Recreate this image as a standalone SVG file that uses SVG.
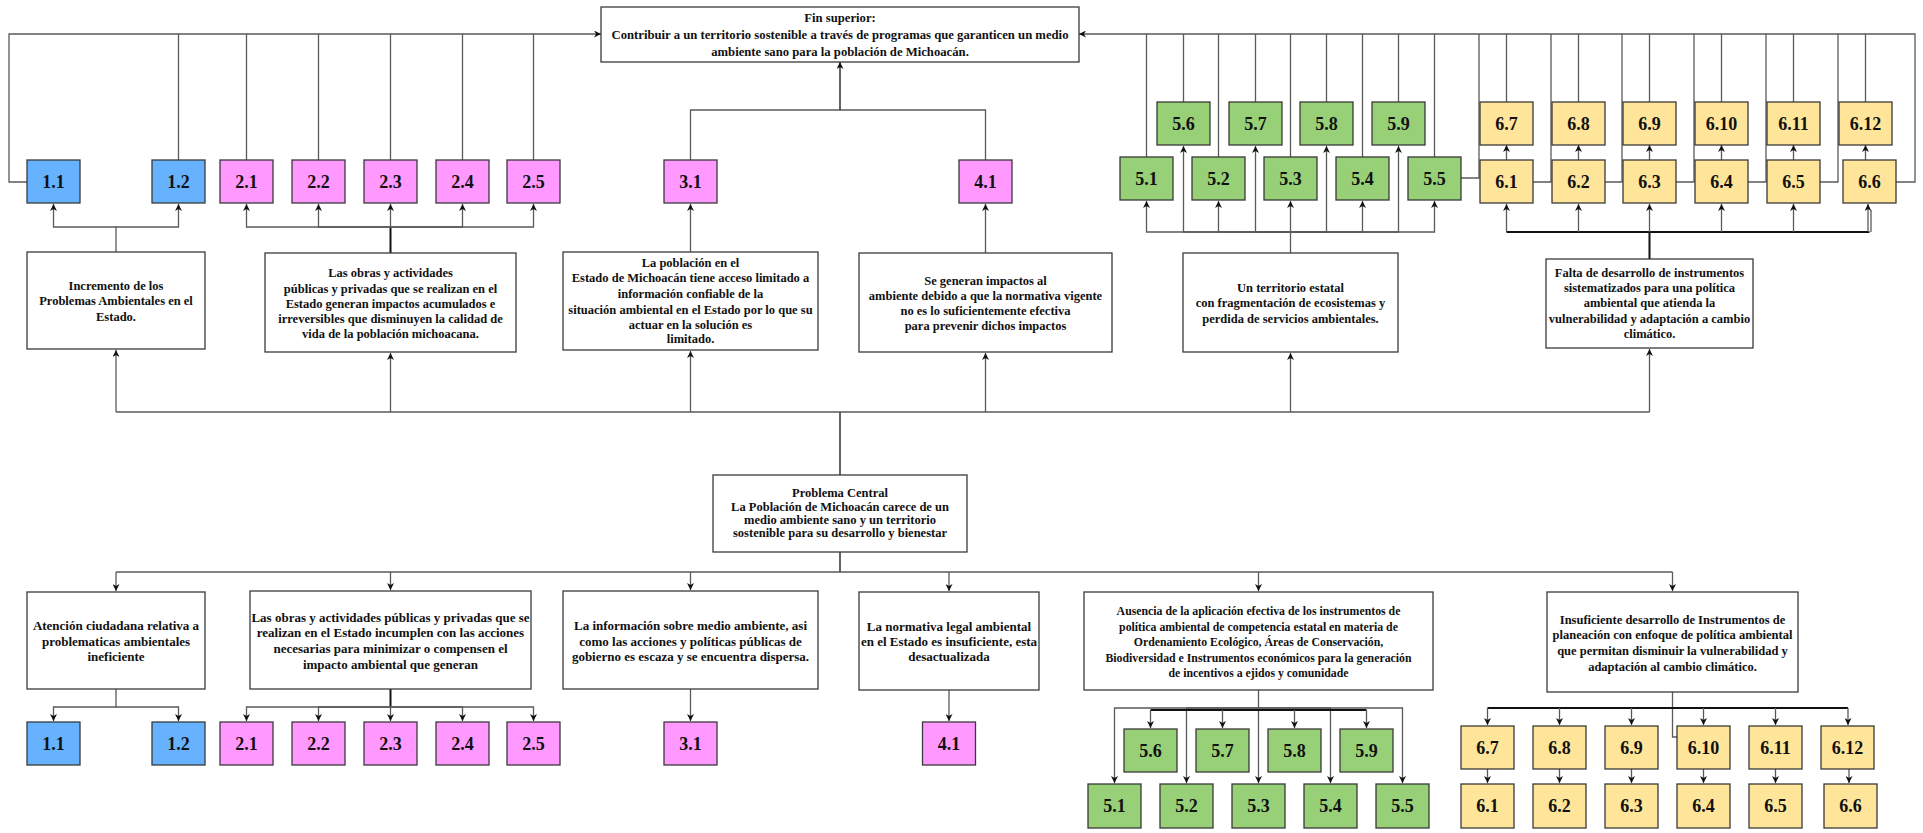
<svg xmlns="http://www.w3.org/2000/svg" width="1923" height="833" viewBox="0 0 1923 833">
<style>
.bg{fill:#fff}
.box{fill:#fff;stroke:#3a3a3a;stroke-width:1.3}
.nb{stroke:#3a3a3a;stroke-width:1.3}
.b1{fill:#66B2FF}
.b2{fill:#FF99FF}
.b5{fill:#97D077}
.b6{fill:#FFE599}
.t{font-family:"Liberation Serif","Times New Roman",serif;font-weight:bold;font-size:12.5px;text-anchor:middle;fill:#111}
.tf{font-size:12.7px}
.tb{font-size:13px}
.ta{font-size:11.8px}
.n{font-family:"Liberation Serif","Times New Roman",serif;font-weight:bold;font-size:18px;text-anchor:middle;fill:#111}
.c{fill:none;stroke:#5a5a5a;stroke-width:1.3}
.d{fill:none;stroke:#111;stroke-width:1.3}
.k{fill:none;stroke:#111;stroke-width:2}
</style>
<defs>
<marker id="a" viewBox="0 0 10 10" refX="10" refY="5" markerWidth="7" markerHeight="7" markerUnits="userSpaceOnUse" orient="auto">
<path d="M0,0 L10,5 L0,10 L3,5 z" fill="#111"/>
</marker>
</defs>
<rect class="bg" x="0" y="0" width="1923" height="833"/>

<g id="connectors">
<path class="c" d="M27,182 H9 V34 H601" marker-end="url(#a)"/>
<path class="c" d="M178.5,160 V34 M246.5,160 V34 M318.5,160 V34 M390.5,160 V34 M462.5,160 V34 M533.5,160 V34"/>
<path class="c" d="M1896,182 H1915 V34 H1079" marker-end="url(#a)"/>
<path class="c" d="M1146.5,157 V34 M1183.5,102 V34 M1218.5,157 V34 M1255.5,102 V34 M1290.5,157 V34 M1326.5,102 V34 M1362.5,157 V34 M1398.5,102 V34 M1434.5,157 V34"/>
<path class="c" d="M1461,178 H1479 V34 M1533,182 H1551 V34 M1605,182 H1622 V34 M1676,182 H1694 V34 M1748,182 H1766 V34 M1820,182 H1838 V34"/>
<path class="c" d="M1506.5,102 V34 M1578.5,102 V34 M1649.5,102 V34 M1721.5,102 V34 M1793.5,102 V34 M1865.5,102 V34"/>
<path class="c" d="M1506.5,160 V145" marker-end="url(#a)"/>
<path class="c" d="M1578.5,160 V145" marker-end="url(#a)"/>
<path class="c" d="M1649.5,160 V145" marker-end="url(#a)"/>
<path class="c" d="M1721.5,160 V145" marker-end="url(#a)"/>
<path class="c" d="M1793.5,160 V145" marker-end="url(#a)"/>
<path class="c" d="M1865.5,160 V145" marker-end="url(#a)"/>
<path class="c" d="M690.5,160 V110 H985.5 V160"/>
<path class="d" d="M840,110 V62" marker-end="url(#a)"/>

<path class="c" d="M116,252 V227 H53.5 V204" marker-end="url(#a)"/>
<path class="c" d="M116,227 H178.5 V204" marker-end="url(#a)"/>
<path class="k" d="M390.5,253 V227"/>
<path class="c" d="M390.5,227 H246.5 V204" marker-end="url(#a)"/>
<path class="c" d="M390.5,227 H318.5 V204" marker-end="url(#a)"/>
<path class="c" d="M390.5,227 V204" marker-end="url(#a)"/>
<path class="c" d="M390.5,227 H462.5 V204" marker-end="url(#a)"/>
<path class="c" d="M390.5,227 H533.5 V204" marker-end="url(#a)"/>
<path class="c" d="M690.5,252 V204" marker-end="url(#a)"/>
<path class="c" d="M985.5,253 V204" marker-end="url(#a)"/>
<path class="c" d="M1290.5,253 V232 H1146.5 V201" marker-end="url(#a)"/>
<path class="c" d="M1290.5,232 H1183.5 V146" marker-end="url(#a)"/>
<path class="c" d="M1290.5,232 H1218.5 V201" marker-end="url(#a)"/>
<path class="c" d="M1290.5,232 H1255.5 V146" marker-end="url(#a)"/>
<path class="c" d="M1290.5,232 V201" marker-end="url(#a)"/>
<path class="c" d="M1290.5,232 H1326.5 V146" marker-end="url(#a)"/>
<path class="c" d="M1290.5,232 H1362.5 V201" marker-end="url(#a)"/>
<path class="c" d="M1290.5,232 H1398.5 V146" marker-end="url(#a)"/>
<path class="c" d="M1290.5,232 H1434.5 V201" marker-end="url(#a)"/>
<path class="k" d="M1649.5,259 V232 M1506.5,232 H1869.5"/>
<path class="c" d="M1506.5,232 V204" marker-end="url(#a)"/>
<path class="c" d="M1578.5,232 V204" marker-end="url(#a)"/>
<path class="c" d="M1649.5,232 V204" marker-end="url(#a)"/>
<path class="c" d="M1721.5,232 V204" marker-end="url(#a)"/>
<path class="c" d="M1793.5,232 V204" marker-end="url(#a)"/>
<path class="c" d="M1868,232 V204" marker-end="url(#a)"/>
<path class="c" d="M1871,232 V210"/>

<path class="d" d="M840,475 V412"/>
<path class="c" d="M116,412 H1649.5"/>
<path class="c" d="M116,412 V350" marker-end="url(#a)"/>
<path class="c" d="M390.5,412 V353" marker-end="url(#a)"/>
<path class="c" d="M690.5,412 V351" marker-end="url(#a)"/>
<path class="c" d="M985.5,412 V353" marker-end="url(#a)"/>
<path class="c" d="M1290.5,412 V353" marker-end="url(#a)"/>
<path class="c" d="M1649.5,412 V349" marker-end="url(#a)"/>

<path class="d" d="M840,552 V572"/>
<path class="c" d="M116,572 H1672.5"/>
<path class="c" d="M116,572 V591" marker-end="url(#a)"/>
<path class="c" d="M390.5,572 V590" marker-end="url(#a)"/>
<path class="c" d="M690.5,572 V590" marker-end="url(#a)"/>
<path class="c" d="M949,572 V591" marker-end="url(#a)"/>
<path class="c" d="M1258.5,572 V591" marker-end="url(#a)"/>
<path class="c" d="M1672.5,572 V591" marker-end="url(#a)"/>

<path class="c" d="M116,689 V707 H53.5 V721" marker-end="url(#a)"/>
<path class="c" d="M116,707 H178.5 V721" marker-end="url(#a)"/>
<path class="k" d="M390.5,689 V707"/>
<path class="c" d="M390.5,707 H246.5 V721" marker-end="url(#a)"/>
<path class="c" d="M390.5,707 H318.5 V721" marker-end="url(#a)"/>
<path class="c" d="M390.5,707 V721" marker-end="url(#a)"/>
<path class="c" d="M390.5,707 H462.5 V721" marker-end="url(#a)"/>
<path class="c" d="M390.5,707 H533.5 V721" marker-end="url(#a)"/>
<path class="c" d="M690.5,689 V721" marker-end="url(#a)"/>
<path class="c" d="M949,690 V721" marker-end="url(#a)"/>

<path class="c" d="M1258.5,690 V708 H1114.5 V783" marker-end="url(#a)"/>
<path class="c" d="M1258.5,708 H1186.5 V783" marker-end="url(#a)"/>
<path class="c" d="M1258.5,708 V783" marker-end="url(#a)"/>
<path class="c" d="M1258.5,708 H1330.5 V783" marker-end="url(#a)"/>
<path class="c" d="M1258.5,708 H1402.5 V783" marker-end="url(#a)"/>
<path class="k" d="M1150.5,710 H1366.5"/>
<path class="c" d="M1150.5,710 V728" marker-end="url(#a)"/>
<path class="c" d="M1222.5,710 V728" marker-end="url(#a)"/>
<path class="c" d="M1294.5,710 V728" marker-end="url(#a)"/>
<path class="c" d="M1366.5,710 V728" marker-end="url(#a)"/>

<path class="c" d="M1672.5,692 V737 H1677"/>
<path class="k" d="M1487.5,708 H1848"/>
<path class="c" d="M1487.5,708 V725" marker-end="url(#a)"/>
<path class="c" d="M1559.5,708 V725" marker-end="url(#a)"/>
<path class="c" d="M1631.5,708 V725" marker-end="url(#a)"/>
<path class="c" d="M1703.5,708 V725" marker-end="url(#a)"/>
<path class="c" d="M1775.5,708 V725" marker-end="url(#a)"/>
<path class="c" d="M1848,708 V725" marker-end="url(#a)"/>
<path class="c" d="M1487.5,769 V783" marker-end="url(#a)"/>
<path class="c" d="M1559.5,769 V783" marker-end="url(#a)"/>
<path class="c" d="M1631.5,769 V783" marker-end="url(#a)"/>
<path class="c" d="M1703.5,769 V783" marker-end="url(#a)"/>
<path class="c" d="M1775.5,769 V783" marker-end="url(#a)"/>
<path class="c" d="M1849,769 V783" marker-end="url(#a)"/>
</g>

<g id="fin"><rect class="box" x="601" y="7" width="478" height="55"/>
<text class="t tf"><tspan x="840" y="22">Fin superior:</tspan><tspan x="840" y="39">Contribuir a un territorio sostenible a través de programas que garanticen un medio</tspan><tspan x="840" y="56">ambiente sano para la población de Michoacán.</tspan></text></g>

<g id="t11"><rect class="nb b1" x="27" y="160" width="53" height="43"/><text class="n" x="53.5" y="188">1.1</text></g>
<g id="t12"><rect class="nb b1" x="152" y="160" width="53" height="43"/><text class="n" x="178.5" y="188">1.2</text></g>
<g id="t21"><rect class="nb b2" x="220" y="160" width="53" height="43"/><text class="n" x="246.5" y="188">2.1</text></g>
<g id="t22"><rect class="nb b2" x="292" y="160" width="53" height="43"/><text class="n" x="318.5" y="188">2.2</text></g>
<g id="t23"><rect class="nb b2" x="364" y="160" width="53" height="43"/><text class="n" x="390.5" y="188">2.3</text></g>
<g id="t24"><rect class="nb b2" x="436" y="160" width="53" height="43"/><text class="n" x="462.5" y="188">2.4</text></g>
<g id="t25"><rect class="nb b2" x="507" y="160" width="53" height="43"/><text class="n" x="533.5" y="188">2.5</text></g>
<g id="t31"><rect class="nb b2" x="664" y="160" width="53" height="43"/><text class="n" x="690.5" y="188">3.1</text></g>
<g id="t41"><rect class="nb b2" x="959" y="160" width="53" height="43"/><text class="n" x="985.5" y="188">4.1</text></g>

<g id="t51"><rect class="nb b5" x="1120" y="157" width="53" height="43"/><text class="n" x="1146.5" y="185">5.1</text></g>
<g id="t52"><rect class="nb b5" x="1192" y="157" width="53" height="43"/><text class="n" x="1218.5" y="185">5.2</text></g>
<g id="t53"><rect class="nb b5" x="1264" y="157" width="53" height="43"/><text class="n" x="1290.5" y="185">5.3</text></g>
<g id="t54"><rect class="nb b5" x="1336" y="157" width="53" height="43"/><text class="n" x="1362.5" y="185">5.4</text></g>
<g id="t55"><rect class="nb b5" x="1408" y="157" width="53" height="43"/><text class="n" x="1434.5" y="185">5.5</text></g>
<g id="t56"><rect class="nb b5" x="1157" y="102" width="53" height="43"/><text class="n" x="1183.5" y="130">5.6</text></g>
<g id="t57"><rect class="nb b5" x="1229" y="102" width="53" height="43"/><text class="n" x="1255.5" y="130">5.7</text></g>
<g id="t58"><rect class="nb b5" x="1300" y="102" width="53" height="43"/><text class="n" x="1326.5" y="130">5.8</text></g>
<g id="t59"><rect class="nb b5" x="1372" y="102" width="53" height="43"/><text class="n" x="1398.5" y="130">5.9</text></g>

<g id="t67"><rect class="nb b6" x="1480" y="102" width="53" height="43"/><text class="n" x="1506.5" y="130">6.7</text></g>
<g id="t68"><rect class="nb b6" x="1552" y="102" width="53" height="43"/><text class="n" x="1578.5" y="130">6.8</text></g>
<g id="t69"><rect class="nb b6" x="1623" y="102" width="53" height="43"/><text class="n" x="1649.5" y="130">6.9</text></g>
<g id="t610"><rect class="nb b6" x="1695" y="102" width="53" height="43"/><text class="n" x="1721.5" y="130">6.10</text></g>
<g id="t611"><rect class="nb b6" x="1767" y="102" width="53" height="43"/><text class="n" x="1793.5" y="130">6.11</text></g>
<g id="t612"><rect class="nb b6" x="1839" y="102" width="53" height="43"/><text class="n" x="1865.5" y="130">6.12</text></g>
<g id="t61"><rect class="nb b6" x="1480" y="160" width="53" height="43"/><text class="n" x="1506.5" y="188">6.1</text></g>
<g id="t62"><rect class="nb b6" x="1552" y="160" width="53" height="43"/><text class="n" x="1578.5" y="188">6.2</text></g>
<g id="t63"><rect class="nb b6" x="1623" y="160" width="53" height="43"/><text class="n" x="1649.5" y="188">6.3</text></g>
<g id="t64"><rect class="nb b6" x="1695" y="160" width="53" height="43"/><text class="n" x="1721.5" y="188">6.4</text></g>
<g id="t65"><rect class="nb b6" x="1767" y="160" width="53" height="43"/><text class="n" x="1793.5" y="188">6.5</text></g>
<g id="t66"><rect class="nb b6" x="1843" y="160" width="53" height="43"/><text class="n" x="1869.5" y="188">6.6</text></g>

<g id="e1"><rect class="box" x="27" y="252" width="178" height="97"/>
<text class="t"><tspan x="116" y="290">Incremento de los</tspan><tspan x="116" y="305">Problemas Ambientales en el</tspan><tspan x="116" y="321">Estado.</tspan></text></g>
<g id="e2"><rect class="box" x="265" y="253" width="251" height="99"/>
<text class="t"><tspan x="390.5" y="277">Las obras y actividades</tspan><tspan x="390.5" y="293">públicas y privadas que se realizan en el</tspan><tspan x="390.5" y="308">Estado generan impactos acumulados e</tspan><tspan x="390.5" y="323">irreversibles que disminuyen la calidad de</tspan><tspan x="390.5" y="338">vida de la población michoacana.</tspan></text></g>
<g id="e3"><rect class="box" x="563" y="252" width="255" height="98"/>
<text class="t"><tspan x="690.5" y="267">La población en el</tspan><tspan x="690.5" y="282">Estado de Michoacán tiene acceso limitado a</tspan><tspan x="690.5" y="298">información confiable de la</tspan><tspan x="690.5" y="314">situación ambiental en el Estado por lo que su</tspan><tspan x="690.5" y="329">actuar en la solución es</tspan><tspan x="690.5" y="343">limitado.</tspan></text></g>
<g id="e4"><rect class="box" x="859" y="253" width="253" height="99"/>
<text class="t"><tspan x="985.5" y="285">Se generan impactos al</tspan><tspan x="985.5" y="300">ambiente debido a que la normativa vigente</tspan><tspan x="985.5" y="315">no es lo suficientemente efectiva</tspan><tspan x="985.5" y="330">para prevenir dichos impactos</tspan></text></g>
<g id="e5"><rect class="box" x="1183" y="253" width="215" height="99"/>
<text class="t"><tspan x="1290.5" y="292">Un territorio estatal</tspan><tspan x="1290.5" y="307">con fragmentación de ecosistemas y</tspan><tspan x="1290.5" y="323">perdida de servicios ambientales.</tspan></text></g>
<g id="e6"><rect class="box" x="1546" y="259" width="207" height="89"/>
<text class="t"><tspan x="1649.5" y="277">Falta de desarrollo de instrumentos</tspan><tspan x="1649.5" y="292">sistematizados para una política</tspan><tspan x="1649.5" y="307">ambiental que atienda la</tspan><tspan x="1649.5" y="323">vulnerabilidad y adaptación a cambio</tspan><tspan x="1649.5" y="338">climático.</tspan></text></g>

<g id="central"><rect class="box" x="713" y="475" width="254" height="77"/>
<text class="t"><tspan x="840" y="497">Problema Central</tspan><tspan x="840" y="511">La Población de Michoacán carece de un</tspan><tspan x="840" y="524">medio ambiente sano y un territorio</tspan><tspan x="840" y="537">sostenible para su desarrollo y bienestar</tspan></text></g>

<g id="c1"><rect class="box" x="27" y="592" width="178" height="97"/>
<text class="t tb"><tspan x="116" y="630">Atención ciudadana relativa a</tspan><tspan x="116" y="646">problematicas ambientales</tspan><tspan x="116" y="661">ineficiente</tspan></text></g>
<g id="c2"><rect class="box" x="250" y="591" width="281" height="98"/>
<text class="t tb"><tspan x="390.5" y="622">Las obras y actividades públicas y privadas que se</tspan><tspan x="390.5" y="637">realizan en el Estado incumplen con las acciones</tspan><tspan x="390.5" y="653">necesarias para minimizar o compensen el</tspan><tspan x="390.5" y="669">impacto ambiental que generan</tspan></text></g>
<g id="c3"><rect class="box" x="563" y="591" width="255" height="98"/>
<text class="t tb"><tspan x="690.5" y="630">La información sobre medio ambiente, asi</tspan><tspan x="690.5" y="646">como las acciones y políticas públicas de</tspan><tspan x="690.5" y="661">gobierno es escaza y se encuentra dispersa.</tspan></text></g>
<g id="c4"><rect class="box" x="859" y="592" width="180" height="98"/>
<text class="t tb"><tspan x="949" y="631">La normativa legal ambiental</tspan><tspan x="949" y="646">en el Estado es insuficiente, esta</tspan><tspan x="949" y="661">desactualizada</tspan></text></g>
<g id="c5"><rect class="box" x="1084" y="592" width="349" height="98"/>
<text class="t ta"><tspan x="1258.5" y="615">Ausencia de la aplicación efectiva de los instrumentos de</tspan><tspan x="1258.5" y="631">política ambiental de competencia estatal en materia de</tspan><tspan x="1258.5" y="646">Ordenamiento Ecológico, Áreas de Conservación,</tspan><tspan x="1258.5" y="662">Biodiversidad e Instrumentos económicos para la generación</tspan><tspan x="1258.5" y="677">de incentivos a ejidos y comunidade</tspan></text></g>
<g id="c6"><rect class="box" x="1547" y="592" width="251" height="100"/>
<text class="t"><tspan x="1672.5" y="624">Insuficiente desarrollo de Instrumentos de</tspan><tspan x="1672.5" y="639">planeación con enfoque de política ambiental</tspan><tspan x="1672.5" y="655">que permitan disminuir la vulnerabilidad y</tspan><tspan x="1672.5" y="671">adaptación al cambio climático.</tspan></text></g>

<g id="b11"><rect class="nb b1" x="27" y="722" width="53" height="43"/><text class="n" x="53.5" y="750">1.1</text></g>
<g id="b12"><rect class="nb b1" x="152" y="722" width="53" height="43"/><text class="n" x="178.5" y="750">1.2</text></g>
<g id="b21"><rect class="nb b2" x="220" y="722" width="53" height="43"/><text class="n" x="246.5" y="750">2.1</text></g>
<g id="b22"><rect class="nb b2" x="292" y="722" width="53" height="43"/><text class="n" x="318.5" y="750">2.2</text></g>
<g id="b23"><rect class="nb b2" x="364" y="722" width="53" height="43"/><text class="n" x="390.5" y="750">2.3</text></g>
<g id="b24"><rect class="nb b2" x="436" y="722" width="53" height="43"/><text class="n" x="462.5" y="750">2.4</text></g>
<g id="b25"><rect class="nb b2" x="507" y="722" width="53" height="43"/><text class="n" x="533.5" y="750">2.5</text></g>
<g id="b31"><rect class="nb b2" x="664" y="722" width="53" height="43"/><text class="n" x="690.5" y="750">3.1</text></g>
<g id="b41"><rect class="nb b2" x="922.5" y="722" width="53" height="43"/><text class="n" x="949" y="750">4.1</text></g>

<g id="b56"><rect class="nb b5" x="1124" y="729" width="53" height="43"/><text class="n" x="1150.5" y="757">5.6</text></g>
<g id="b57"><rect class="nb b5" x="1196" y="729" width="53" height="43"/><text class="n" x="1222.5" y="757">5.7</text></g>
<g id="b58"><rect class="nb b5" x="1268" y="729" width="53" height="43"/><text class="n" x="1294.5" y="757">5.8</text></g>
<g id="b59"><rect class="nb b5" x="1340" y="729" width="53" height="43"/><text class="n" x="1366.5" y="757">5.9</text></g>
<g id="b51"><rect class="nb b5" x="1088" y="784" width="53" height="44"/><text class="n" x="1114.5" y="812">5.1</text></g>
<g id="b52"><rect class="nb b5" x="1160" y="784" width="53" height="44"/><text class="n" x="1186.5" y="812">5.2</text></g>
<g id="b53"><rect class="nb b5" x="1232" y="784" width="53" height="44"/><text class="n" x="1258.5" y="812">5.3</text></g>
<g id="b54"><rect class="nb b5" x="1304" y="784" width="53" height="44"/><text class="n" x="1330.5" y="812">5.4</text></g>
<g id="b55"><rect class="nb b5" x="1376" y="784" width="53" height="44"/><text class="n" x="1402.5" y="812">5.5</text></g>

<g id="b67"><rect class="nb b6" x="1461" y="726" width="53" height="43"/><text class="n" x="1487.5" y="754">6.7</text></g>
<g id="b68"><rect class="nb b6" x="1533" y="726" width="53" height="43"/><text class="n" x="1559.5" y="754">6.8</text></g>
<g id="b69"><rect class="nb b6" x="1605" y="726" width="53" height="43"/><text class="n" x="1631.5" y="754">6.9</text></g>
<g id="b610"><rect class="nb b6" x="1677" y="726" width="53" height="43"/><text class="n" x="1703.5" y="754">6.10</text></g>
<g id="b611"><rect class="nb b6" x="1749" y="726" width="53" height="43"/><text class="n" x="1775.5" y="754">6.11</text></g>
<g id="b612"><rect class="nb b6" x="1821" y="726" width="53" height="43"/><text class="n" x="1847.5" y="754">6.12</text></g>
<g id="b61"><rect class="nb b6" x="1461" y="784" width="53" height="44"/><text class="n" x="1487.5" y="812">6.1</text></g>
<g id="b62"><rect class="nb b6" x="1533" y="784" width="53" height="44"/><text class="n" x="1559.5" y="812">6.2</text></g>
<g id="b63"><rect class="nb b6" x="1605" y="784" width="53" height="44"/><text class="n" x="1631.5" y="812">6.3</text></g>
<g id="b64"><rect class="nb b6" x="1677" y="784" width="53" height="44"/><text class="n" x="1703.5" y="812">6.4</text></g>
<g id="b65"><rect class="nb b6" x="1749" y="784" width="53" height="44"/><text class="n" x="1775.5" y="812">6.5</text></g>
<g id="b66"><rect class="nb b6" x="1824" y="784" width="53" height="44"/><text class="n" x="1850.5" y="812">6.6</text></g>
</svg>
